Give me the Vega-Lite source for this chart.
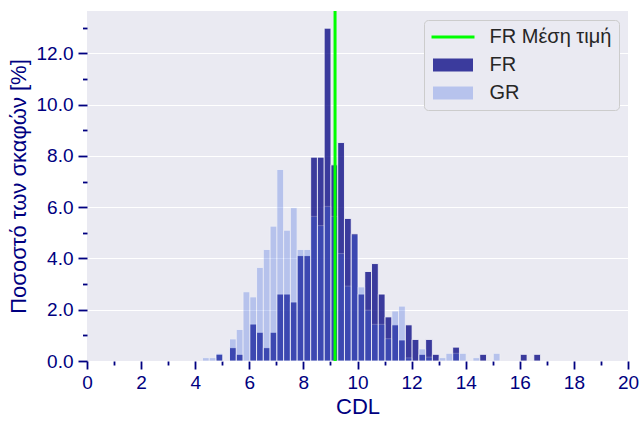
{
  "$schema": "https://vega.github.io/schema/vega-lite/v6.json",
  "width": 541,
  "height": 350,
  "autosize": {"type": "none"},
  "padding": {"left": 87, "top": 11, "right": 13, "bottom": 63},
  "background": "white",
  "config": {
    "view": {"fill": "#EAEAF2", "stroke": null},
    "font": "Liberation Sans",
    "axis": {
      "domain": false,
      "gridColor": "white",
      "gridWidth": 1.2,
      "tickColor": "#000080",
      "tickWidth": 1.8,
      "labelColor": "#000080",
      "titleColor": "#000080",
      "labelFont": "Liberation Sans",
      "titleFont": "Liberation Sans",
      "labelFontSize": 19,
      "titleFontSize": 22,
      "titleFontWeight": "normal",
      "labelFlush": false,
      "labelOverlap": false
    }
  },
  "layer": [
    {
      "data": {
        "values": [
          {"series": "FR", "cdl": 4.75, "pct": 0.26},
          {"series": "FR", "cdl": 5.25, "pct": 0.52},
          {"series": "FR", "cdl": 5.5, "pct": 0.26},
          {"series": "FR", "cdl": 6.0, "pct": 1.44},
          {"series": "FR", "cdl": 6.25, "pct": 1.12},
          {"series": "FR", "cdl": 6.5, "pct": 0.52},
          {"series": "FR", "cdl": 6.75, "pct": 1.12},
          {"series": "FR", "cdl": 7.0, "pct": 2.61},
          {"series": "FR", "cdl": 7.25, "pct": 2.61},
          {"series": "FR", "cdl": 7.5, "pct": 2.3},
          {"series": "FR", "cdl": 7.75, "pct": 4.11},
          {"series": "FR", "cdl": 8.0, "pct": 4.11},
          {"series": "FR", "cdl": 8.25, "pct": 7.95},
          {"series": "FR", "cdl": 8.5, "pct": 7.95},
          {"series": "FR", "cdl": 8.75, "pct": 12.98},
          {"series": "FR", "cdl": 9.0, "pct": 7.65},
          {"series": "FR", "cdl": 9.25, "pct": 8.52},
          {"series": "FR", "cdl": 9.5, "pct": 5.56},
          {"series": "FR", "cdl": 9.75, "pct": 4.97},
          {"series": "FR", "cdl": 10.0, "pct": 2.61},
          {"series": "FR", "cdl": 10.25, "pct": 3.49},
          {"series": "FR", "cdl": 10.5, "pct": 3.8},
          {"series": "FR", "cdl": 10.75, "pct": 2.61},
          {"series": "FR", "cdl": 11.0, "pct": 1.72},
          {"series": "FR", "cdl": 11.25, "pct": 1.41},
          {"series": "FR", "cdl": 11.5, "pct": 0.82},
          {"series": "FR", "cdl": 11.75, "pct": 1.41},
          {"series": "FR", "cdl": 12.0, "pct": 0.84},
          {"series": "FR", "cdl": 12.25, "pct": 0.26},
          {"series": "FR", "cdl": 12.5, "pct": 0.84},
          {"series": "FR", "cdl": 12.75, "pct": 0.26},
          {"series": "FR", "cdl": 13.5, "pct": 0.54},
          {"series": "FR", "cdl": 14.5, "pct": 0.26},
          {"series": "FR", "cdl": 16.0, "pct": 0.26},
          {"series": "FR", "cdl": 16.5, "pct": 0.26},
          {"series": "GR", "cdl": 4.25, "pct": 0.13},
          {"series": "GR", "cdl": 4.5, "pct": 0.13},
          {"series": "GR", "cdl": 4.75, "pct": 0.3},
          {"series": "GR", "cdl": 5.25, "pct": 0.86},
          {"series": "GR", "cdl": 5.5, "pct": 1.23},
          {"series": "GR", "cdl": 5.75, "pct": 2.7},
          {"series": "GR", "cdl": 6.0, "pct": 2.5},
          {"series": "GR", "cdl": 6.25, "pct": 3.65},
          {"series": "GR", "cdl": 6.5, "pct": 4.35},
          {"series": "GR", "cdl": 6.75, "pct": 5.26},
          {"series": "GR", "cdl": 7.0, "pct": 7.47},
          {"series": "GR", "cdl": 7.25, "pct": 5.1},
          {"series": "GR", "cdl": 7.5, "pct": 5.98},
          {"series": "GR", "cdl": 7.75, "pct": 4.35},
          {"series": "GR", "cdl": 8.0, "pct": 4.35},
          {"series": "GR", "cdl": 8.25, "pct": 5.64},
          {"series": "GR", "cdl": 8.5, "pct": 5.28},
          {"series": "GR", "cdl": 8.75, "pct": 6.03},
          {"series": "GR", "cdl": 9.0, "pct": 5.64},
          {"series": "GR", "cdl": 9.25, "pct": 4.19},
          {"series": "GR", "cdl": 9.5, "pct": 2.92},
          {"series": "GR", "cdl": 9.75, "pct": 4.93},
          {"series": "GR", "cdl": 10.0, "pct": 2.89},
          {"series": "GR", "cdl": 10.25, "pct": 1.98},
          {"series": "GR", "cdl": 10.5, "pct": 1.43},
          {"series": "GR", "cdl": 10.75, "pct": 1.43},
          {"series": "GR", "cdl": 11.0, "pct": 0.87},
          {"series": "GR", "cdl": 11.25, "pct": 1.95},
          {"series": "GR", "cdl": 11.5, "pct": 2.14},
          {"series": "GR", "cdl": 11.75, "pct": 0.12},
          {"series": "GR", "cdl": 12.25, "pct": 0.47},
          {"series": "GR", "cdl": 12.5, "pct": 0.15},
          {"series": "GR", "cdl": 13.0, "pct": 0.13},
          {"series": "GR", "cdl": 13.25, "pct": 0.3},
          {"series": "GR", "cdl": 13.5, "pct": 0.3},
          {"series": "GR", "cdl": 13.75, "pct": 0.3},
          {"series": "GR", "cdl": 14.25, "pct": 0.13},
          {"series": "GR", "cdl": 15.0, "pct": 0.3}
        ]
      },
      "mark": {"type": "bar", "stroke": "white", "strokeWidth": 0.8, "binSpacing": 0},
      "encoding": {
        "x": {
          "field": "cdl",
          "type": "quantitative",
          "bin": {"step": 0.25, "extent": [0, 20]},
          "scale": {"domain": [0, 20], "nice": false, "zero": false},
          "title": "CDL",
          "axis": {
            "values": [0,1,2,3,4,5,6,7,8,9,10,11,12,13,14,15,16,17,18,19,20],
            "labelExpr": "datum.value % 2 === 0 ? format(datum.value, 'd') : ''",
            "tickSize": {"condition": {"test": "datum.value % 2 === 0", "value": 8}, "value": 4},
            "gridOpacity": {"condition": {"test": "datum.value % 2 === 0", "value": 1}, "value": 0},
            "labelPadding": 4,
            "titlePadding": 4
          }
        },
        "y": {
          "field": "pct",
          "type": "quantitative",
          "stack": null,
          "scale": {"domain": [0, 13.65], "nice": false},
          "title": "Ποσοστό των σκαφών [%]",
          "axis": {
            "values": [0,1,2,3,4,5,6,7,8,9,10,11,12,13],
            "labelExpr": "datum.value % 2 === 0 ? format(datum.value, '.1f') : ''",
            "tickSize": {"condition": {"test": "datum.value % 2 === 0", "value": 9}, "value": 4.5},
            "gridOpacity": {"condition": {"test": "datum.value % 2 === 0", "value": 1}, "value": 0},
            "labelPadding": 5,
            "titlePadding": 6
          }
        },
        "color": {
          "field": "series",
          "type": "nominal",
          "scale": {"domain": ["FR Μέση τιμή", "FR", "GR"], "range": ["#00ff00", "#000080", "#4169e1"]},
          "legend": {
            "title": null,
            "orient": "top-right",
            "offset": 9,
            "symbolSize": 400,
            "symbolStrokeWidth": 0,
            "symbolOffset": 12,
            "symbolType": {"expr": "datum.value === 'FR Μέση τιμή' ? 'M-2.15,-0.15H2.15V0.15H-2.15Z' : 'M-2,-0.65H2V0.65H-2Z'"},
            "symbolOpacity": {"expr": "datum.value === 'GR' ? 0.3 : datum.value === 'FR' ? 0.75 : 1"},
            "labelFont": "Liberation Sans",
            "labelFontSize": 20,
            "labelColor": "#262626",
            "labelOffset": 26.5,
            "rowPadding": 8,
            "padding": 7,
            "fillColor": "#EAEAF2",
            "strokeColor": "#cccccc",
            "cornerRadius": 4
          }
        },
        "opacity": {"condition": {"test": "datum.series === 'GR'", "value": 0.3}, "value": 0.75}
      }
    },
    {
      "data": {"values": [{"series": "FR Μέση τιμή", "cdl": 9.17}]},
      "mark": {"type": "rule", "strokeWidth": 3, "color": "#00ff00"},
      "encoding": {
        "x": {"field": "cdl", "type": "quantitative"}
      }
    }
  ]
}
